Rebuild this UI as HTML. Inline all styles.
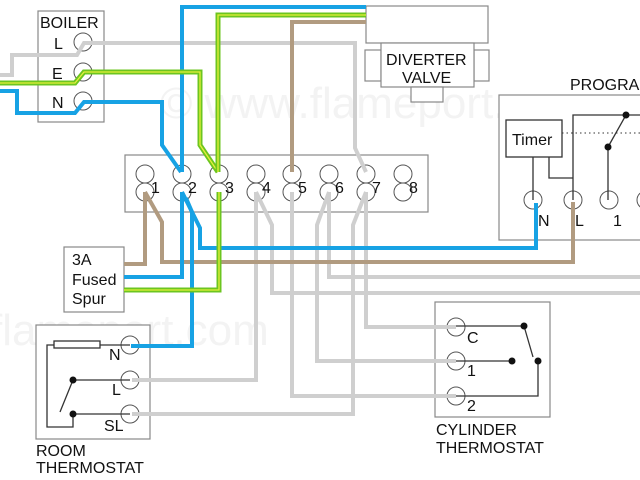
<!DOCTYPE html>
<html><head><meta charset="utf-8"><style>
html,body{margin:0;padding:0;background:#fff;}
svg{display:block;}
text{font-family:"Liberation Sans",sans-serif;fill:#111;}
</style></head><body>
<svg width="640" height="480" viewBox="0 0 640 480" xmlns="http://www.w3.org/2000/svg">
<rect width="640" height="480" fill="#fff"/>
<text x="160" y="118" font-size="44" style="fill:#f3f3f3">© www.flameport.com</text>
<text x="-10" y="345" font-size="44" style="fill:#f3f3f3">flameport.com</text>

<g fill="none" stroke="#888" stroke-width="1.2">
<rect x="38" y="11" width="66" height="111" fill="#fff"/>
<rect x="125" y="155" width="303" height="57" fill="#fff"/>
<rect x="366" y="6" width="122" height="37" fill="#fff"/>
<rect x="365" y="50" width="16" height="31" fill="#fff"/>
<rect x="474" y="50" width="15" height="31" fill="#fff"/>
<rect x="381" y="43" width="93" height="44" fill="#fff"/>
<rect x="411" y="87" width="32" height="15" fill="#fff"/>
<rect x="499" y="95" width="150" height="145" fill="#fff"/>
<rect x="64" y="247" width="60" height="65" fill="#fff"/>
<rect x="36" y="325" width="114" height="114" fill="#fff"/>
<rect x="435" y="302" width="115" height="115" fill="#fff"/>
</g>

<!-- terminal circles -->
<g fill="none" stroke="#555" stroke-width="1">
<circle cx="83" cy="42" r="9"/><circle cx="83" cy="72" r="9"/><circle cx="83" cy="101" r="9"/>
<circle cx="145" cy="174" r="9"/><circle cx="145" cy="192" r="9"/>
<circle cx="182" cy="174" r="9"/><circle cx="182" cy="192" r="9"/>
<circle cx="219" cy="174" r="9"/><circle cx="219" cy="192" r="9"/>
<circle cx="256" cy="174" r="9"/><circle cx="256" cy="192" r="9"/>
<circle cx="292" cy="174" r="9"/><circle cx="292" cy="192" r="9"/>
<circle cx="329" cy="174" r="9"/><circle cx="329" cy="192" r="9"/>
<circle cx="366" cy="174" r="9"/><circle cx="366" cy="192" r="9"/>
<circle cx="403" cy="174" r="9"/><circle cx="403" cy="192" r="9"/>
<circle cx="533" cy="200" r="9"/><circle cx="573" cy="200" r="9"/><circle cx="609" cy="200" r="9"/><circle cx="646" cy="200" r="9"/>
<circle cx="130" cy="345" r="9"/><circle cx="130" cy="380" r="9"/><circle cx="130" cy="414" r="9"/>
<circle cx="456" cy="327" r="9"/><circle cx="456" cy="361" r="9"/><circle cx="456" cy="396" r="9"/>
</g>

<g fill="none" stroke-linejoin="miter" stroke-width="4">
<g stroke="#cfcfcf">
<polyline points="0,75 12,75 12,55 77,55 84,43 355,43 355,148 366,172"/>
<polyline points="256,192 272,225 272,293 640,293"/>
<polyline points="256,192 256,380 132,380"/>
<polyline points="292,192 292,396 456,396"/>
<polyline points="329,192 329,277 640,277"/>
<polyline points="329,192 317,225 317,361 456,361"/>
<polyline points="366,192 366,327 456,327"/>
<polyline points="366,192 353,225 353,414 132,414"/>
</g>
<g stroke="#b19b80">
<polyline points="292,172 292,22 366,22"/>
<polyline points="145,192 145,264 124,264"/>
<polyline points="145,192 162,222 162,262 573,262 573,202"/>
</g>
<g stroke="#17a2e4">
<polyline points="0,91 17,91 17,113 75,113 84,102 162,102 162,145 181,172"/>
<polyline points="366,7 182,7 182,172"/>
<polyline points="182,192 182,277 124,277"/>
<polyline points="182,192 200,228 200,248 536,248 536,203"/>
<polyline points="186,198 192,212 192,346 131,346"/>
</g>
<g>
<polyline stroke="#6cc520" stroke-width="5" points="0,83 75,83 84,72 200,72 200,145 218,172"/>
<polyline stroke="#e6f03a" stroke-width="1.3" points="0,83 75,83 84,72 200,72 200,145 218,172"/>
<polyline stroke="#6cc520" stroke-width="5" points="366,15 218,15 218,172"/>
<polyline stroke="#e6f03a" stroke-width="1.3" points="366,15 218,15 218,172"/>
<polyline stroke="#6cc520" stroke-width="5" points="219,192 219,290 124,290"/>
<polyline stroke="#e6f03a" stroke-width="1.3" points="219,192 219,290 124,290"/>
</g>
</g>

<g fill="none" stroke="#333" stroke-width="1.3">
<rect x="506" y="120" width="56" height="37" fill="#fff"/>
<line x1="533" y1="157" x2="533" y2="200"/>
<polyline points="549,157 549,178 573,178"/>
<polyline points="573,200 573,115 640,115"/>
<line x1="626" y1="115" x2="608" y2="147"/>
<line x1="608" y1="147" x2="608" y2="200"/>
<line x1="562" y1="133" x2="640" y2="133" stroke-dasharray="1.5,3" stroke-width="1"/>
<rect x="54" y="341" width="46" height="7" fill="#fff"/>
<polyline points="54,345 47,345 47,427 73,427 73,414"/>
<line x1="100" y1="345" x2="130" y2="345"/>
<line x1="73" y1="380" x2="130" y2="380"/>
<line x1="73" y1="414" x2="130" y2="414"/>
<line x1="73" y1="380" x2="60" y2="412"/>
<line x1="456" y1="326" x2="524" y2="326"/>
<line x1="456" y1="361" x2="512" y2="361"/>
<polyline points="538,361 538,396 456,396"/>
<line x1="524" y1="326" x2="533" y2="357"/>
</g>
<g fill="#111">
<circle cx="626" cy="115" r="3.5"/><circle cx="608" cy="147" r="3.5"/>
<circle cx="73" cy="380" r="3.5"/><circle cx="73" cy="414" r="3.5"/>
<circle cx="524" cy="326" r="3.5"/><circle cx="512" cy="361" r="3.5"/><circle cx="538" cy="361" r="3.5"/>
</g>

<g font-size="16">
<text x="40" y="28">BOILER</text>
<text x="54" y="49">L</text><text x="52" y="79">E</text><text x="52" y="108">N</text>
<text x="151" y="193">1</text><text x="188" y="193">2</text><text x="225" y="193">3</text><text x="262" y="193">4</text>
<text x="298" y="193">5</text><text x="335" y="193">6</text><text x="372" y="193">7</text><text x="409" y="193">8</text>
<text x="386" y="65">DIVERTER</text><text x="402" y="83">VALVE</text>
<text x="570" y="90">PROGRAMMER</text>
<text x="512" y="145">Timer</text>
<text x="538" y="226">N</text><text x="575" y="226">L</text><text x="613" y="226">1</text>
<text x="72" y="265">3A</text><text x="72" y="285">Fused</text><text x="72" y="304">Spur</text>
<text x="109" y="360">N</text><text x="112" y="395">L</text><text x="104" y="431">SL</text>
<text x="36" y="456">ROOM</text><text x="36" y="473">THERMOSTAT</text>
<text x="467" y="343">C</text><text x="467" y="376">1</text><text x="467" y="411">2</text>
<text x="436" y="435">CYLINDER</text><text x="436" y="453">THERMOSTAT</text>
</g>
</svg>
</body></html>
